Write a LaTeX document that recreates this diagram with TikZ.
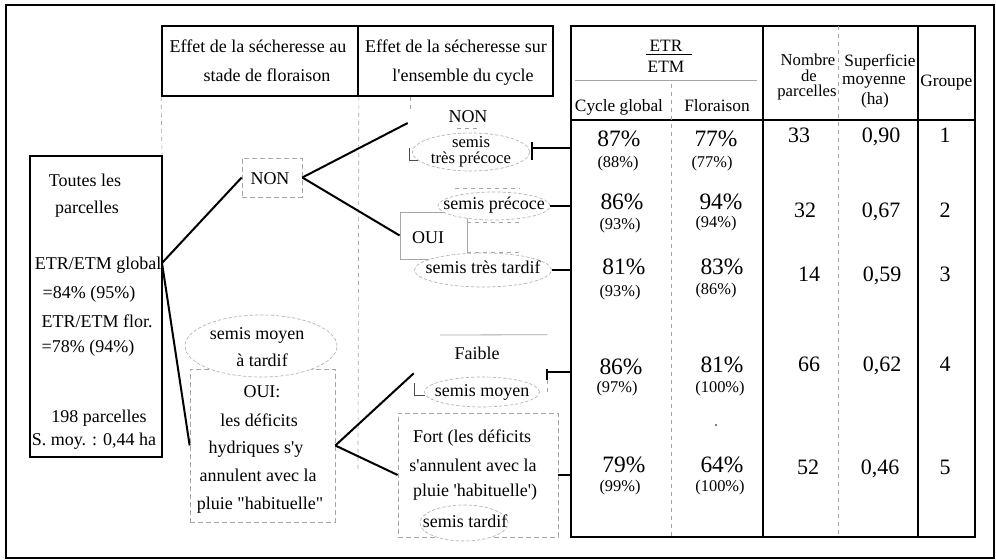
\documentclass[tikz,border=0pt]{standalone}
\usepackage{fontspec}
\setmainfont{Liberation Serif}[Ligatures=TeXOff]
\usetikzlibrary{fit,shapes.geometric}
\begin{document}
\begin{tikzpicture}[x=0.75pt,y=-0.75pt,
 lbl/.style={inner sep=0pt, font=\fontsize{13.5}{15}\selectfont, text height=0.66em, text depth=0pt},
 lblh/.style={lbl, font=\fontsize{13}{14}\selectfont},
 lblt/.style={lbl, font=\fontsize{12.5}{13}\selectfont},
 bignum/.style={lbl, font=\fontsize{17.6}{18}\selectfont},
 smallnum/.style={lbl, font=\fontsize{12.3}{13}\selectfont},
 midnum/.style={lbl, font=\fontsize{16.5}{18}\selectfont},
 hbox/.style={draw, line width=1.3pt, inner sep=0pt},
 lbox/.style={draw, line width=0.9pt, inner sep=0pt},
 tbox/.style={draw, line width=1.4pt, inner sep=0pt},
 dbox/.style={draw=gray!70, dash pattern=on 4pt off 2pt, line width=0.5pt, inner sep=0pt},
 gbox/.style={draw=gray!70, line width=0.6pt, inner sep=0pt},
 hid/.style={inner sep=0pt},
 elw/.style 2 args={minimum width=#1*0.75pt, minimum height=#2*0.75pt},
 ell/.style={ellipse, draw=gray!60, dash pattern=on 2.5pt off 1.5pt, line width=0.5pt, inner sep=0pt, fill=white},
 conn/.style={line width=1.5pt},
 tconn/.style={line width=1.1pt},
 brk/.style={line width=0.7pt, draw=gray!60!black},
 guide/.style={draw=gray!70, dash pattern=on 3pt off 3pt, line width=0.5pt},
 tline/.style={line width=1.4pt},
]
\useasboundingbox (0,0) rectangle (996,560);
\node[draw, line width=1.2pt, inner sep=0pt, fit={(6,5)(994,558)}] (frame) {};

% header boxes
\node[hbox, fit={(162,26)(358,96)}] (hA) {};
\node[hbox, fit={(358,26)(553,96)}] (hB) {};
\node[lbl] (hA1) at (258,48) {Effet de la sécheresse au};
\node[lbl] (hA2) at (267,77) {stade de floraison};
\node[lbl] (hB1) at (456,48) {Effet de la sécheresse sur};
\node[lbl] (hB2) at (463,77) {l'ensemble du cycle};

% guides
\draw[guide] (hA.south west) -- (162,155);
\draw[guide] (hA.south east) -- (358,470);
\draw[guide] (410,97) -- (410,113);

% left box
\node[lbox, fit={(30,156)(162,457)}] (all) {};
\node[lbl] (all1) at (85,182) {Toutes les};
\node[lbl] (all2) at (87,209) {parcelles};
\node[lbl] (all3) at (98,265) {ETR/ETM global};
\node[lbl] (all4) at (89,294) {=84\% (95\%)};
\node[lbl] (all5) at (97,323) {ETR/ETM flor.};
\node[lbl] (all6) at (88,348) {=78\% (94\%)};
\node[lbl] (all7) at (99,418) {198 parcelles};
\node[lbl] (all8) at (94,441) {S. moy. : 0,44 ha};
\coordinate (v0) at (162,263);

% NON (floraison)
\node[dbox, fit={(242,158)(302,197)}] (non1) {};
\node[lbl] (non1t) at (270,180) {NON};

% NON (cycle)
\node[hid, fit={(408,110)(528,136)}] (non2) {};
\node[lbl] (non2t) at (468,118) {NON};
\draw[guide] (457,128) -- (480,128);

% semis tres precoce
\node[ell, elw={117}{38}] (e1) at (471,152) {};
\node[lblt] (e1a) at (471,143) {semis};
\node[lblt] (e1b) at (471,159) {très précoce};
\draw[brk] (409,148) |- (418,160);
\draw[tconn] (532,142) -- (532,160);
\coordinate (e1r) at (532,148);

% OUI (cycle)
\node[gbox, fit={(400,212)(467,259)}] (oui1) {};
\node[lbl] (oui1t) at (428,239) {OUI};
\draw[guide] (467,222) -- (520,222);
\draw[guide] (467,252) -- (520,252);
\draw[guide] (455,188) -- (520,188);
\node[ell, elw={112}{28}] (e2) at (494,206) {};
\node[lbl] (e2t) at (494,205) {semis précoce};
\node[ell, elw={137}{34}] (e3) at (483,270) {};
\node[lbl] (e3t) at (483,269) {semis très tardif};

% OUI (floraison)
\node[dbox, fit={(190,369)(335,522)}] (oui2) {};
\node[ell, elw={152}{62}] (e5) at (261,346) {};
\node[lbl] (e5a) at (257,335) {semis moyen};
\node[lbl] (e5b) at (262,362) {à tardif};
\node[lbl] (oui2a) at (262,393) {OUI:};
\node[lbl] (oui2b) at (259,422) {les déficits};
\node[lbl] (oui2c) at (256,449) {hydriques s'y};
\node[lbl] (oui2d) at (258,477) {annulent avec la};
\node[lbl] (oui2e) at (260,505) {pluie "habituelle"};

% Faible
\node[hid, fit={(414,335)(547,373)}] (faible) {};
\draw[gray!70, line width=0.6pt] (440,335) -- (faible.north east);
\node[lbl] (faiblet) at (477,355) {Faible};
\node[ell, elw={115}{30}] (e4) at (482,392) {};
\node[lbl] (e4t) at (482,392) {semis moyen};
\draw[brk] (414,383) |- (425,395);
\draw[tconn] (547,369) -- (547,380);
\draw[guide] (547,380) -- (547,396);
\coordinate (f1) at (547,372);

% Fort
\node[dbox, fit={(398,413)(558,537)}] (fort) {};
\node[lbl] (fort1) at (472,438) {Fort (les déficits};
\node[lbl] (fort2) at (473,467) {s'annulent avec la};
\node[lbl] (fort3) at (475,492) {pluie 'habituelle')};
\node[ell, elw={88}{36}] (e6) at (464,523) {};
\node[lbl] (e6t) at (465,523) {semis tardif};

% tree connectors
\draw[conn] (v0) -- (non1.west);
\draw[conn] (v0) -- (oui2.west);
\draw[conn] (non1.east) -- (non2.west);
\draw[conn] (non1.east) -- (oui1.west);
\draw[conn] (oui2.east) -- (faible.south west);
\draw[conn] (oui2.east) -- (fort.west);

% table
\node[tbox, fit={(571,26)(975,537)}] (tbl) {};
\draw[tline] (tbl.west |- 0,120) -- (tbl.east |- 0,120);
\draw[tline] (763,26) -- (763,537);
\draw[tline] (918,26) -- (918,537);
\draw[guide] (838,26) -- (838,537);
\draw[guide] (671,84) -- (671,537);
\draw[gray!70, line width=0.6pt] (575,80) -- (757,80);
\node[lblh] (etr) at (666,47) {ETR};
\draw[line width=0.6pt] (646,54) -- (692,54);
\node[lblh] (etm) at (666,68) {ETM};
\node[lblh] (cg) at (619,107) {Cycle global};
\node[lblh] (flo) at (717,107) {Floraison};
\node[lblt] (nb1) at (808,61) {Nombre};
\node[lblt] (nb2) at (809,77) {de};
\node[lblt] (nb3) at (807,92) {parcelles};
\node[lblh] (sp1) at (880,62) {Superficie};
\node[lblh] (sp2) at (874,80) {moyenne};
\node[lblh] (sp3) at (875,100) {(ha)};
\node[lblh, anchor=west] (grp) at (920,82) {Groupe};

% table connectors
\draw[tconn] (e1r) -- (e1r -| tbl.west);
\draw[tconn] (e2.east) -- (e2.east -| tbl.west);
\draw[tconn] (e3.east) -- (e3.east -| tbl.west);
\draw[tconn] (f1) -- (f1 -| tbl.west);
\draw[tconn] (fort.east) -- (fort.east -| tbl.west);

% rows
\node[bignum] (a1) at (619,142) {87\%};
\node[smallnum] (b1) at (618,163) {(88\%)};
\node[bignum] (c1) at (716,142) {77\%};
\node[smallnum] (d1) at (712,163) {(77\%)};
\node[midnum] (n1) at (799,138) {33};
\node[midnum] (s1) at (881,138) {0,90};
\node[midnum] (g1) at (945,138) {1};

\node[bignum] (a2) at (622,205) {86\%};
\node[smallnum] (b2) at (620,225) {(93\%)};
\node[bignum] (c2) at (721,205) {94\%};
\node[smallnum] (d2) at (716,223) {(94\%)};
\node[midnum] (n2) at (805,213) {32};
\node[midnum] (s2) at (881,213) {0,67};
\node[midnum] (g2) at (945,213) {2};

\node[bignum] (a3) at (624,270) {81\%};
\node[smallnum] (b3) at (620,292) {(93\%)};
\node[bignum] (c3) at (722,270) {83\%};
\node[smallnum] (d3) at (716,290) {(86\%)};
\node[midnum] (n3) at (809,277) {14};
\node[midnum] (s3) at (882,277) {0,59};
\node[midnum] (g3) at (945,277) {3};

\node[bignum] (a4) at (621,370) {86\%};
\node[smallnum] (b4) at (617,388) {(97\%)};
\node[bignum] (c4) at (722,368) {81\%};
\node[smallnum] (d4) at (720,388) {(100\%)};
\node[midnum] (n4) at (809,367) {66};
\node[midnum] (s4) at (882,367) {0,62};
\node[midnum] (g4) at (945,367) {4};

\node[bignum] (a5) at (624,468) {79\%};
\node[smallnum] (b5) at (620,487) {(99\%)};
\node[bignum] (c5) at (722,468) {64\%};
\node[smallnum] (d5) at (720,487) {(100\%)};
\node[midnum] (n5) at (808,470) {52};
\node[midnum] (s5) at (880,470) {0,46};
\node[midnum] (g5) at (945,470) {5};

\fill (716,425) circle (0.9);
\end{tikzpicture}
\end{document}
